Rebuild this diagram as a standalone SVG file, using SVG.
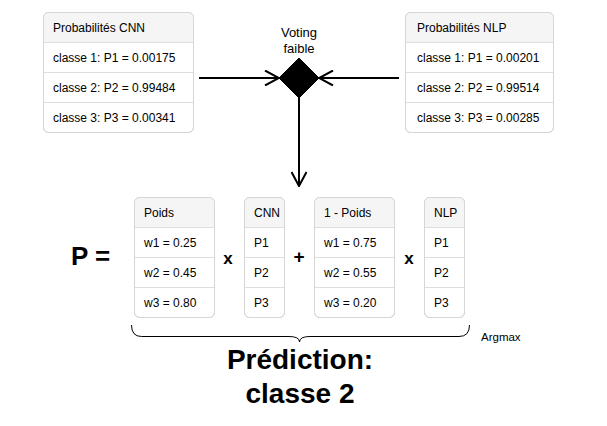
<svg xmlns="http://www.w3.org/2000/svg" width="607" height="426" viewBox="0 0 607 426">
<style>
text{font-family:"Liberation Sans",Arial,sans-serif;fill:#000}
.cell{font-size:12px}
.box{fill:#fff;stroke:#d6d6d6;stroke-width:1}
.head{fill:#f5f5f5}
.sep{stroke:#dedede;stroke-width:1}
.conn{stroke:#000;stroke-width:2;fill:none}
.big{font-weight:bold}
</style>
<defs>
<marker id="arr" viewBox="0 0 16 16" refX="15" refY="8" markerWidth="16" markerHeight="16" markerUnits="userSpaceOnUse" orient="auto">
<path d="M1,0.5 L15,8 L1,15.5" fill="none" stroke="#000" stroke-width="2"/>
</marker>
<clipPath id="cl1"><rect x="43.5" y="12.5" width="150" height="120" rx="5"/></clipPath>
<clipPath id="cl2"><rect x="405.5" y="12.5" width="148" height="120" rx="5"/></clipPath>
<clipPath id="cl3"><rect x="134.5" y="197.5" width="80" height="120" rx="5"/></clipPath>
<clipPath id="cl4"><rect x="244.5" y="197.5" width="40" height="120" rx="5"/></clipPath>
<clipPath id="cl5"><rect x="314.5" y="197.5" width="80" height="120" rx="5"/></clipPath>
<clipPath id="cl6"><rect x="424.5" y="197.5" width="40" height="120" rx="5"/></clipPath>
</defs>

<g id="connectors">
<line class="conn" x1="199" y1="78" x2="279" y2="78" marker-end="url(#arr)"/>
<line class="conn" x1="399" y1="78" x2="319" y2="78" marker-end="url(#arr)"/>
<line class="conn" x1="299" y1="98" x2="299" y2="186" marker-end="url(#arr)"/>
</g>

<g id="cnn-probs">
<rect class="box" x="43.5" y="12.5" width="150" height="120" rx="5"/>
<rect class="head" x="43.5" y="12.5" width="150" height="30" clip-path="url(#cl1)"/>
<line class="sep" x1="43.5" y1="42.5" x2="193.5" y2="42.5"/>
<line class="sep" x1="43.5" y1="72.5" x2="193.5" y2="72.5"/>
<line class="sep" x1="43.5" y1="102.5" x2="193.5" y2="102.5"/>
<rect x="43.5" y="12.5" width="150" height="120" rx="5" fill="none" stroke="#d6d6d6"/>
<text class="cell" x="53" y="32">Probabilités CNN</text>
<text class="cell" x="53" y="62">classe 1: P1 = 0.00175</text>
<text class="cell" x="53" y="92">classe 2: P2 = 0.99484</text>
<text class="cell" x="53" y="122">classe 3: P3 = 0.00341</text>
</g>

<g id="nlp-probs">
<rect class="box" x="405.5" y="12.5" width="148" height="120" rx="5"/>
<rect class="head" x="405.5" y="12.5" width="148" height="30" clip-path="url(#cl2)"/>
<line class="sep" x1="405.5" y1="42.5" x2="553.5" y2="42.5"/>
<line class="sep" x1="405.5" y1="72.5" x2="553.5" y2="72.5"/>
<line class="sep" x1="405.5" y1="102.5" x2="553.5" y2="102.5"/>
<rect x="405.5" y="12.5" width="148" height="120" rx="5" fill="none" stroke="#d6d6d6"/>
<text class="cell" x="417" y="32">Probabilités NLP</text>
<text class="cell" x="417" y="62">classe 1: P1 = 0.00201</text>
<text class="cell" x="417" y="92">classe 2: P2 = 0.99514</text>
<text class="cell" x="417" y="122">classe 3: P3 = 0.00285</text>
</g>

<g id="voting">
<polygon points="299,58 319,78 299,98 279,78" fill="#000" stroke="#000" stroke-width="1"/>
<text x="299" y="37" font-size="13" text-anchor="middle">Voting</text>
<text x="299" y="53" font-size="13" text-anchor="middle">faible</text>
</g>

<g id="p-eq">
<text class="big" x="71" y="265" font-size="26">P =</text>
</g>

<g id="poids">
<rect class="box" x="134.5" y="197.5" width="80" height="120" rx="5"/>
<rect class="head" x="134.5" y="197.5" width="80" height="30" clip-path="url(#cl3)"/>
<line class="sep" x1="134.5" y1="227.5" x2="214.5" y2="227.5"/>
<line class="sep" x1="134.5" y1="257.5" x2="214.5" y2="257.5"/>
<line class="sep" x1="134.5" y1="287.5" x2="214.5" y2="287.5"/>
<rect x="134.5" y="197.5" width="80" height="120" rx="5" fill="none" stroke="#d6d6d6"/>
<text class="cell" x="144" y="217">Poids</text>
<text class="cell" x="144" y="247">w1 = 0.25</text>
<text class="cell" x="144" y="277">w2 = 0.45</text>
<text class="cell" x="144" y="307">w3 = 0.80</text>
</g>

<g id="op-x1"><text class="big" x="228" y="264" font-size="17" text-anchor="middle">x</text></g>

<g id="cnn">
<rect class="box" x="244.5" y="197.5" width="40" height="120" rx="5"/>
<rect class="head" x="244.5" y="197.5" width="40" height="30" clip-path="url(#cl4)"/>
<line class="sep" x1="244.5" y1="227.5" x2="284.5" y2="227.5"/>
<line class="sep" x1="244.5" y1="257.5" x2="284.5" y2="257.5"/>
<line class="sep" x1="244.5" y1="287.5" x2="284.5" y2="287.5"/>
<rect x="244.5" y="197.5" width="40" height="120" rx="5" fill="none" stroke="#d6d6d6"/>
<text class="cell" x="254" y="217">CNN</text>
<text class="cell" x="254" y="247">P1</text>
<text class="cell" x="254" y="277">P2</text>
<text class="cell" x="254" y="307">P3</text>
</g>

<g id="op-plus"><text class="big" x="299" y="263" font-size="19" text-anchor="middle">+</text></g>

<g id="un-moins-poids">
<rect class="box" x="314.5" y="197.5" width="80" height="120" rx="5"/>
<rect class="head" x="314.5" y="197.5" width="80" height="30" clip-path="url(#cl5)"/>
<line class="sep" x1="314.5" y1="227.5" x2="394.5" y2="227.5"/>
<line class="sep" x1="314.5" y1="257.5" x2="394.5" y2="257.5"/>
<line class="sep" x1="314.5" y1="287.5" x2="394.5" y2="287.5"/>
<rect x="314.5" y="197.5" width="80" height="120" rx="5" fill="none" stroke="#d6d6d6"/>
<text class="cell" x="324" y="217">1 - Poids</text>
<text class="cell" x="324" y="247">w1 = 0.75</text>
<text class="cell" x="324" y="277">w2 = 0.55</text>
<text class="cell" x="324" y="307">w3 = 0.20</text>
</g>

<g id="op-x2"><text class="big" x="409" y="264" font-size="17" text-anchor="middle">x</text></g>

<g id="nlp">
<rect class="box" x="424.5" y="197.5" width="40" height="120" rx="5"/>
<rect class="head" x="424.5" y="197.5" width="40" height="30" clip-path="url(#cl6)"/>
<line class="sep" x1="424.5" y1="227.5" x2="464.5" y2="227.5"/>
<line class="sep" x1="424.5" y1="257.5" x2="464.5" y2="257.5"/>
<line class="sep" x1="424.5" y1="287.5" x2="464.5" y2="287.5"/>
<rect x="424.5" y="197.5" width="40" height="120" rx="5" fill="none" stroke="#d6d6d6"/>
<text class="cell" x="434" y="217">NLP</text>
<text class="cell" x="434" y="247">P1</text>
<text class="cell" x="434" y="277">P2</text>
<text class="cell" x="434" y="307">P3</text>
</g>

<g id="brace">
<path d="M131.5,325 Q131.5,336.5 141.5,336.5 L289,336.5 Q299.5,336.5 299.5,342 Q299.5,336.5 310,336.5 L459,336.5 Q469.5,336.5 469.5,325" fill="none" stroke="#000" stroke-width="1"/>
<text x="481" y="341" font-size="11.5">Argmax</text>
</g>

<g id="prediction">
<text class="big" x="300" y="369" font-size="28" text-anchor="middle">Prédiction:</text>
<text class="big" x="300" y="403" font-size="28" text-anchor="middle">classe 2</text>
</g>
</svg>
